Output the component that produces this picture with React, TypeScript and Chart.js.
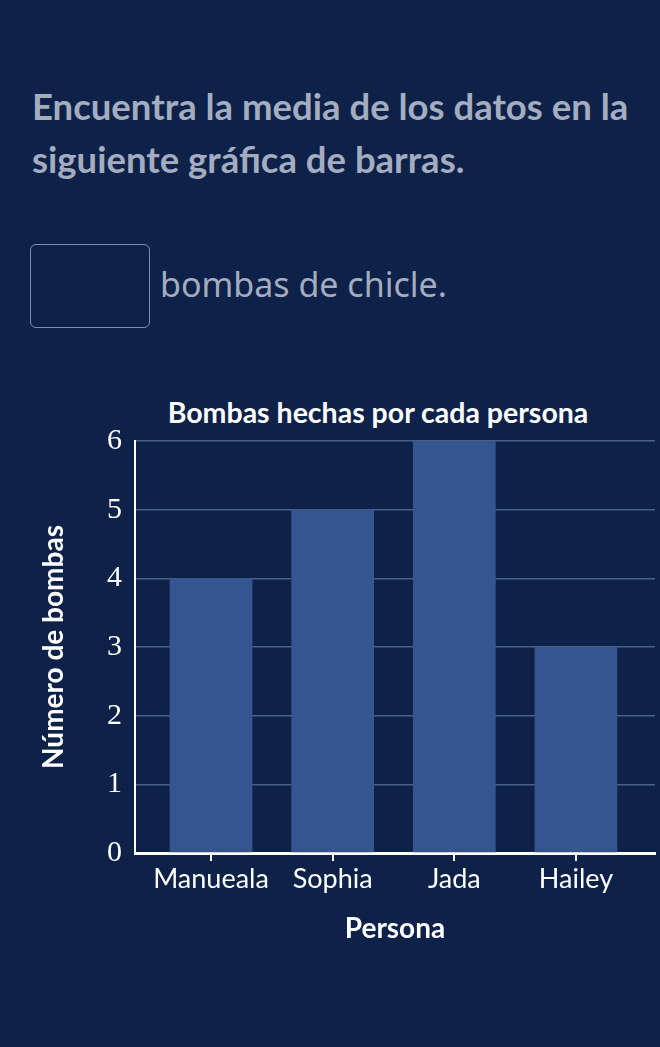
import React, { useEffect, useRef } from "react";
import { Chart, registerables } from "chart.js";

Chart.register(...registerables);

const categories = ["Manueala", "Sophia", "Jada", "Hailey"];
const values = [4, 5, 6, 3];
const yTicks = [0, 1, 2, 3, 4, 5, 6];

const BG = "#0d2149";
const BAR = "#34558f";
const GRID = "#4a6089";
const MUTED = "#a4acbf";

export default function App() {
  const ref = useRef<HTMLCanvasElement | null>(null);

  useEffect(() => {
    if (!ref.current) return;
    const chart = new Chart(ref.current, {
      type: "bar",
      data: {
        datasets: [
          {
            data: values.map((v, i) => ({ x: i, y: v })),
            backgroundColor: BAR,
            borderWidth: 0,
            barPercentage: 0.68,
            categoryPercentage: 1,
          },
        ],
      },
      options: {
        responsive: false,
        animation: false,
        layout: { padding: { left: 0, right: 5, top: 441, bottom: 94 } },
        plugins: {
          legend: { display: false },
          tooltip: { enabled: false },
          title: { display: false },
        },
        scales: {
          x: {
            type: "linear",
            offset: false,
            min: -0.625,
            max: 3.65,
            afterBuildTicks: (s: any) => {
              s.ticks = categories.map((_, i) => ({ value: i }));
            },
            afterFit: (s: any) => {
              s.height = 100;
            },
            grid: {
              display: true,
              offset: false,
              drawOnChartArea: false,
              drawTicks: true,
              tickLength: 8,
              color: "#ffffff",
              lineWidth: 2,
            },
            border: { display: true, color: "#ffffff", width: 3 },
            ticks: {
              callback: (v: any) => categories[v as number] ?? "",
              color: "#ffffff",
              font: { family: "Lato", size: 27 },
              padding: 2,
              autoSkip: false,
              maxRotation: 0,
            },
            title: {
              display: true,
              text: "Persona",
              color: "#ffffff",
              font: { family: "Lato", size: 28, weight: "bold" },
              padding: { top: 0, bottom: 7 },
            },
          },
          y: {
            min: 0,
            max: 6,
            afterBuildTicks: (s: any) => {
              s.ticks = yTicks.map((v) => ({ value: v }));
            },
            afterFit: (s: any) => {
              s.width = 135;
            },
            grid: { color: GRID, lineWidth: 1.5, drawTicks: false },
            border: { display: true, color: "#ffffff", width: 2 },
            ticks: {
              color: "#ffffff",
              font: { family: "Liberation Serif", size: 30 },
              padding: 13,
            },
            title: {
              display: true,
              text: "Número de bombas",
              color: "#ffffff",
              font: { family: "Lato", size: 28, weight: "bold" },
              padding: { top: 37, bottom: 0 },
            },
          },
        },
      },
    } as any);
    return () => chart.destroy();
  }, []);

  return (
    <div
      style={{
        position: "fixed",
        left: 0,
        top: 0,
        width: 660,
        height: 1047,
        background: BG,
        overflow: "hidden",
        fontFamily: "Lato, sans-serif",
      }}
    >
      <div
        style={{
          position: "absolute",
          left: 32,
          top: 80,
          width: 628,
          fontSize: 36.5,
          lineHeight: "53px",
          fontWeight: 700,
          color: MUTED,
          whiteSpace: "nowrap",
        }}
      >
        Encuentra la media de los datos en la
        <br />
        siguiente gráfica de barras.
      </div>
      <div
        style={{
          position: "absolute",
          left: 30,
          top: 244,
          width: 118,
          height: 82,
          border: "1px solid #7d8db0",
          borderRadius: 6,
        }}
      />
      <div
        style={{
          position: "absolute",
          left: 160,
          top: 264,
          fontSize: 34,
          lineHeight: "40px",
          fontFamily: "'Noto Sans', sans-serif",
          color: MUTED,
          whiteSpace: "nowrap",
        }}
      >
        bombas de chicle.
      </div>
      <div
        style={{
          position: "absolute",
          left: 128,
          top: 396,
          width: 500,
          textAlign: "center",
          fontSize: 28.5,
          lineHeight: "32px",
          fontWeight: 700,
          color: "#ffffff",
          whiteSpace: "nowrap",
        }}
      >
        Bombas hechas por cada persona
      </div>
      <canvas
        ref={ref}
        width={660}
        height={1047}
        style={{ position: "absolute", left: 0, top: 0, width: 660, height: 1047 }}
      />
    </div>
  );
}
